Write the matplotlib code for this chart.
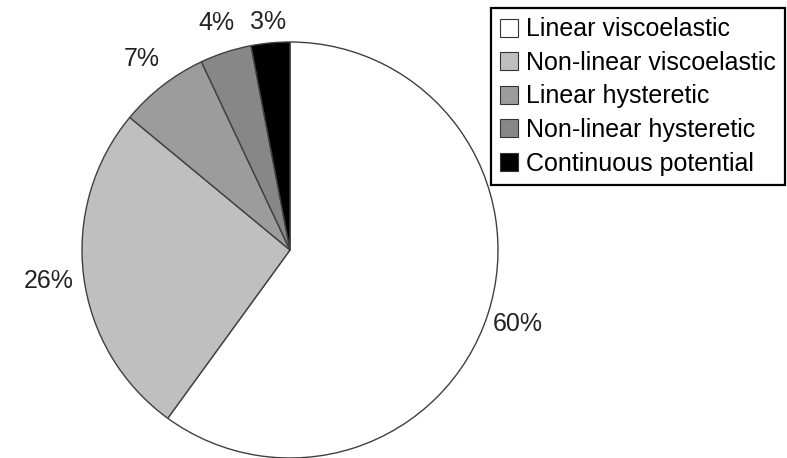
"""Pie chart of the contact model types used in the reviewed studies."""

import matplotlib
matplotlib.use('Agg')
from matplotlib import pyplot

labels = ['Linear viscoelastic', 'Non-linear viscoelastic',
          'Linear hysteretic', 'Non-linear hysteretic',
          'Continuous potential']
shares = [60, 26, 7, 4, 3]
colors = ['#ffffff', '#bfbfbf', '#9c9c9c', '#878787', '#000000']
# Radial position of each percentage label, in units of the radius.
label_dist = [1.15, 1.17, 1.16, 1.15, 1.10]

pyplot.rc('font', family=['Liberation Sans', 'DejaVu Sans'], size=18)

fig = pyplot.figure(figsize=(7.87, 4.58), dpi=100)
ax = fig.add_axes([0, 0, 1, 1])

wedges, texts, autotexts = ax.pie(
    shares, colors=colors, startangle=90, counterclock=False,
    radius=1.0, autopct='%d%%', pctdistance=1.0,
    wedgeprops=dict(edgecolor='#404040', linewidth=1.0),
    textprops=dict(color='#222222', fontsize=18)
)
for txt, dist in zip(autotexts, label_dist):
    x, y = txt.get_position()
    txt.set_position((x * dist, y * dist))

# One data unit equals the pie radius (208 px).
ax.set_xlim(-290 / 208, 497 / 208)
ax.set_ylim(-1.0, 250 / 208)
ax.set_aspect('auto')
ax.axis('off')

leg = fig.legend(wedges, labels, loc='upper right',
                 bbox_to_anchor=(785 / 787, 1 - 8 / 458),
                 fancybox=False, framealpha=1.0, edgecolor='black',
                 handlelength=0.72, handleheight=0.72, handletextpad=0.3,
                 labelspacing=0.38, borderpad=0.38, borderaxespad=0.0,
                 fontsize=18)
leg.get_frame().set_linewidth(1.6)
for patch in leg.get_patches():
    patch.set_edgecolor('#333333')
    patch.set_linewidth(0.8)

fig.savefig('out.png', dpi=100)
